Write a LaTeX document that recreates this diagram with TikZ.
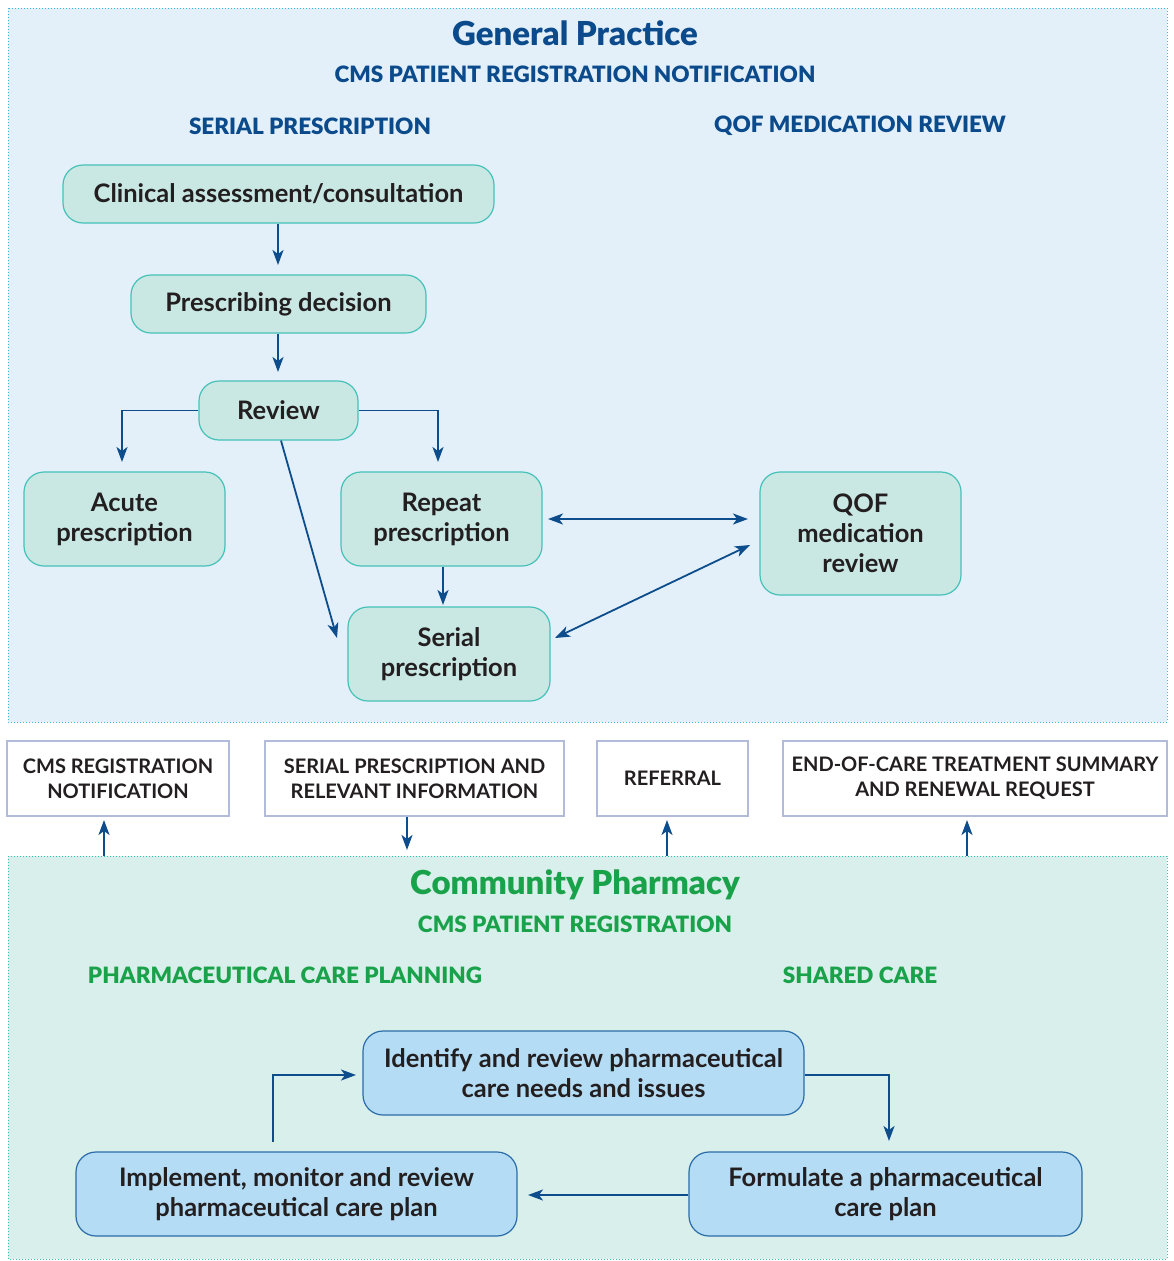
\documentclass[tikz,border=0pt]{standalone}
\usepackage{fontspec}
\setmainfont{Lato}
\newfontfamily\heavyfont{Lato Black}
\usetikzlibrary{arrows.meta,positioning}
\definecolor{gpblue}{HTML}{0B4A8B}
\definecolor{cpgreen}{HTML}{1AA24B}
\definecolor{topbg}{HTML}{E3F0FA}
\definecolor{botbg}{HTML}{D9EFEC}
\definecolor{topdot}{HTML}{3DB8DD}
\definecolor{botdot}{HTML}{3DBFB0}
\definecolor{tealfill}{HTML}{C9E8E3}
\definecolor{tealedge}{HTML}{45C1B8}
\definecolor{bluefill}{HTML}{B4DCF4}
\definecolor{blueedge}{HTML}{2A6CA8}
\definecolor{msgedge}{HTML}{B3BBDA}
\definecolor{txt}{HTML}{231F20}
\definecolor{arr}{HTML}{0D4D8C}
\tikzset{
  gpbox/.style={draw=tealedge, fill=tealfill, line width=1.2pt, rounded corners=20pt, align=center, text=txt, font=\fontsize{25.5}{30}\selectfont\bfseries, inner sep=0pt},
  cpbox/.style={draw=blueedge, fill=bluefill, line width=1.2pt, rounded corners=20pt, align=center, text=txt, font=\fontsize{25.5}{30}\selectfont\bfseries, inner sep=0pt},
  msgbox/.style={draw=msgedge, fill=white, line width=1.2pt, align=center, text=txt, font=\fontsize{20}{25}\selectfont\bfseries, inner sep=0pt},
  flow/.style={draw=arr, line width=1.8pt, -{Stealth[length=15pt,width=11pt,inset=4pt]}},
  bflow/.style={draw=arr, line width=1.8pt, {Stealth[length=15pt,width=11pt,inset=4pt]}-{Stealth[length=15pt,width=11pt,inset=4pt]}},
  gptitle/.style={text=gpblue, font=\fontsize{33}{38}\heavyfont},
  gphead/.style={text=gpblue, font=\fontsize{22.5}{26}\heavyfont},
  cptitle/.style={text=cpgreen, font=\fontsize{33}{38}\heavyfont},
  cphead/.style={text=cpgreen, font=\fontsize{22.5}{26}\heavyfont},
}
\begin{document}
\begin{tikzpicture}[x=1pt,y=-1pt]
\useasboundingbox (0,0) rectangle (1174,1261);
\fill[white] (0,0) rectangle (1174,1261);
% regions
\draw[fill=topbg, draw=topdot, line width=1pt, dotted] (8,8) rectangle (1167,722);
\draw[fill=botbg, draw=botdot, line width=1pt, dotted] (8,856) rectangle (1167,1259);
% titles
\node[gptitle] (gpt) at (575,33) {General Practice};
\node[gphead] (gph) at (575,74) {CMS PATIENT REGISTRATION NOTIFICATION};
\node[gphead] (sph) at (310,126) {SERIAL PRESCRIPTION};
\node[gphead] (qoh) at (860,126) {QOF MEDICATION REVIEW};
% GP nodes
\node[gpbox, minimum width=431pt, minimum height=58pt] (clin) at (278.5,194) {Clinical assessment/consultation};
\node[gpbox, minimum width=295pt, minimum height=58pt] (presc) at (278.5,304) {Prescribing decision};
\node[gpbox, minimum width=159pt, minimum height=59pt] (rev) at (278.5,410.5) {Review};
\node[gpbox, minimum width=201pt, minimum height=94pt] (acute) at (124.5,519) {Acute\\prescription};
\node[gpbox, minimum width=201pt, minimum height=94pt] (rep) at (441.5,519) {Repeat\\prescription};
\node[gpbox, minimum width=201pt, minimum height=123pt] (qof) at (860.5,533.5) {QOF\\medication\\review};
\node[gpbox, minimum width=202pt, minimum height=94pt] (ser) at (449,654) {Serial\\prescription};
% GP connectors
\coordinate (c1) at (278,265);
\coordinate (c2) at (278,372);
\coordinate (c3) at (122,462);
\coordinate (c4) at (438,462);
\coordinate (c5) at (337,638);
\coordinate (c6) at (443,605);
\coordinate (c7a) at (548,519);
\coordinate (c7b) at (748,519);
\coordinate (c8a) at (555,638);
\coordinate (c8b) at (750,545);
\draw[flow] (clin.south -| c1) -- (c1);
\draw[flow] (presc.south -| c2) -- (c2);
\draw[flow] (rev.west) -| (c3);
\draw[flow] (rev.east) -| (c4);
\draw[flow] (rev.south -| 281,0) -- (c5);
\draw[flow] (rep.south -| c6) -- (c6);
\draw[bflow] (c7a) -- (c7b);
\draw[bflow] (c8a) -- (c8b);
% message boxes
\node[msgbox, minimum width=222pt, minimum height=75pt] (m1) at (118,778.5) {CMS REGISTRATION\\NOTIFICATION};
\node[msgbox, minimum width=299pt, minimum height=75pt] (m2) at (414.5,778.5) {SERIAL PRESCRIPTION AND\\RELEVANT INFORMATION};
\node[msgbox, minimum width=151pt, minimum height=75pt] (m3) at (672.5,778.5) {REFERRAL};
\node[msgbox, minimum width=384pt, minimum height=75pt] (m4) at (975,778.5) {END-OF-CARE TREATMENT SUMMARY\\AND RENEWAL REQUEST};
\coordinate (a1) at (104,856);
\coordinate (a2) at (407,850);
\coordinate (a3) at (667,856);
\coordinate (a4) at (967,856);
\draw[flow] (a1) -- (a1 |- 0,820);
\draw[flow] (m2.south -| a2) -- (a2);
\draw[flow] (a3) -- (a3 |- 0,820);
\draw[flow] (a4) -- (a4 |- 0,820);
% CP titles
\node[cptitle] (cpt) at (575,885) {Community Pharmacy};
\node[cphead] (cph) at (575,924) {CMS PATIENT REGISTRATION};
\node[cphead] (pcp) at (285,975) {PHARMACEUTICAL CARE PLANNING};
\node[cphead] (shc) at (860,975) {SHARED CARE};
% CP nodes
\node[cpbox, minimum width=441pt, minimum height=84pt] (ident) at (583.5,1073) {Identify and review pharmaceutical\\care needs and issues};
\node[cpbox, minimum width=441pt, minimum height=84pt] (impl) at (296.5,1194) {Implement, monitor and review\\pharmaceutical care plan};
\node[cpbox, minimum width=393pt, minimum height=84pt] (form) at (885.5,1194) {Formulate a pharmaceutical\\care plan};
\coordinate (b1) at (273,1142);
\coordinate (b2) at (356,1075);
\coordinate (b3) at (889,1141);
\coordinate (b4) at (528,1195);
\draw[flow] (b1) |- (b2);
\draw[flow] (ident.east |- 0,1075) -| (b3);
\draw[flow] (form.west |- b4) -- (b4);
\end{tikzpicture}
\end{document}
